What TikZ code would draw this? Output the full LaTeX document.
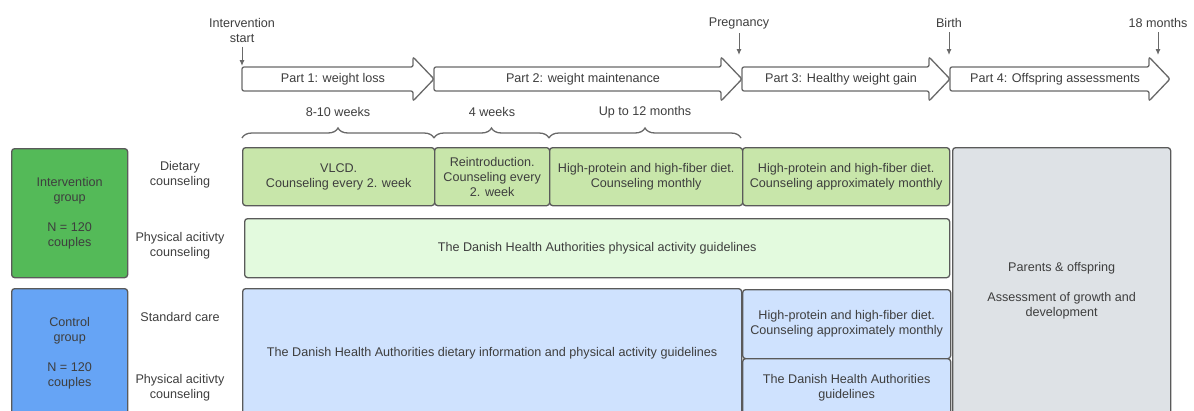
\documentclass[tikz,border=0pt]{standalone}
\usepackage{fontspec}
\setmainfont{Liberation Sans}
\usetikzlibrary{arrows.meta,decorations.pathreplacing}

\definecolor{txtgray}{RGB}{62,62,62}
\definecolor{linegray}{RGB}{105,105,105}
\definecolor{boxgray}{RGB}{90,90,90}
\definecolor{intvgreen}{RGB}{84,186,88}
\definecolor{ctrlblue}{RGB}{102,164,245}
\definecolor{dietgreen}{RGB}{200,230,170}
\definecolor{pagreen}{RGB}{227,250,222}
\definecolor{lightblue}{RGB}{207,226,254}
\definecolor{offgray}{RGB}{222,226,230}

\begin{document}
\begin{tikzpicture}[x=1pt, y=-1pt,
        every node/.style={font=\fontsize{12.6}{15}\selectfont, text=txtgray, align=center},
        partarrow/.style={draw=linegray, line width=1.3pt, fill=white, rounded corners=2pt},
        tick/.style={draw=linegray, line width=1pt, -{Latex[length=6pt,width=5pt]}, shorten <=1pt},
        spanbrace/.style={draw=linegray, line width=1.3pt, decorate, decoration={brace, amplitude=10pt}},
        cell/.style={draw=boxgray, line width=1.3pt, rounded corners=3pt, inner sep=0pt, anchor=north west}]
        \useasboundingbox (0,0) rectangle (1194,410);
        \clip (0,0) rectangle (1194,410);

        % time line
        \foreach \a/\b/\n/\t in {242/434/1/{Part 1: weight loss}, 434/742/2/{Part 2: weight maintenance},
                742/950/3/{Part 3: Healthy weight gain}, 950/1170/4/{Part 4: Offspring assessments}} {
            \draw[partarrow] (\a,79) -- (\a,67) -- ({\b-21},67) -- ({\b-21},57) -- (\b,79)
                -- ({\b-21},101) -- ({\b-21},91) -- (\a,91) -- cycle;
            \node (part\n) at ({(\a+\b-10)/2},79) {\t};
        }

        \node (tstart) at (242,30) {Intervention\\start};
        \coordinate (tstartend) at (242,66);
        \draw[tick] (tstart) -- (tstartend);
        \node (tpreg) at (739,23) {Pregnancy};
        \coordinate (tpregend) at (739,55);
        \draw[tick] (tpreg) -- (tpregend);
        \node (tbirth) at (949,23) {Birth};
        \coordinate (tbirthend) at (949,55);
        \draw[tick] (tbirth) -- (tbirthend);
        \node (tend) at (1158,23) {18 months};
        \coordinate (tendend) at (1158,55);
        \draw[tick] (tend) -- (tendend);

        % durations
        \node (dur1) at (338,112) {8-10 weeks};
        \node (dur2) at (492,112) {4 weeks};
        \node (dur3) at (645,112) {Up to 12 months};
        \coordinate (b0) at (242,138);
        \coordinate (b1) at (434,138);
        \coordinate (b2) at (549,138);
        \coordinate (b3) at (741,138);
        \draw[spanbrace] (b0) -- (b1);
        \draw[spanbrace] (b1) -- (b2);
        \draw[spanbrace] (b2) -- (b3);

        % groups
        \node[cell, fill=intvgreen, minimum width=116pt, minimum height=129pt] (intv) at (11,148)
            {Intervention\\group\\[15pt]N = 120\\couples};
        \node[cell, fill=ctrlblue, minimum width=116pt, minimum height=129pt] (ctrl) at (11,288)
            {Control\\group\\[15pt]N = 120\\couples};

        \node (lbldiet) at (180,175) {Dietary\\counseling};
        \node (lblpa) at (180,246) {Physical acitivty\\counseling};
        \node (lblstd) at (180,317) {Standard care};
        \node (lblctrlpa) at (180,388) {Physical acitivty\\counseling};

        % intervention group
        \node[cell, fill=dietgreen, minimum width=192pt, minimum height=58pt] (vlcd) at (242,147)
            {VLCD.\\Counseling every 2. week};
        \node[cell, fill=dietgreen, minimum width=115pt, minimum height=58pt] (reintro) at (434,147)
            {Reintroduction.\\Counseling every\\2. week};
        \node[cell, fill=dietgreen, minimum width=193pt, minimum height=58pt] (dietmonth) at (549,147)
            {High-protein and high-fiber diet.\\Counseling monthly};
        \node[cell, fill=dietgreen, minimum width=207pt, minimum height=58pt] (dietgain) at (742,147)
            {High-protein and high-fiber diet.\\Counseling approximately monthly};
        \node[cell, fill=pagreen, minimum width=705pt, minimum height=59pt] (intvpa) at (244,218)
            {The Danish Health Authorities physical activity guidelines};

        % control group
        \node[cell, fill=lightblue, minimum width=499pt, minimum height=129pt] (ctrlbase) at (242,288)
            {The Danish Health Authorities dietary information and physical activity guidelines};
        \node[cell, fill=lightblue, minimum width=208pt, minimum height=69pt] (ctrldiet) at (742,289)
            {High-protein and high-fiber diet.\\Counseling approximately monthly};
        \node[cell, fill=lightblue, minimum width=208pt, minimum height=59pt] (ctrlpa) at (742,358)
            {The Danish Health Authorities\\guidelines};

        % offspring
        \node[cell, fill=offgray, minimum width=218pt, minimum height=286pt] (offspring) at (952,147)
            {Parents \& offspring\\[15pt]Assessment of growth and\\development};
\end{tikzpicture}
\end{document}
